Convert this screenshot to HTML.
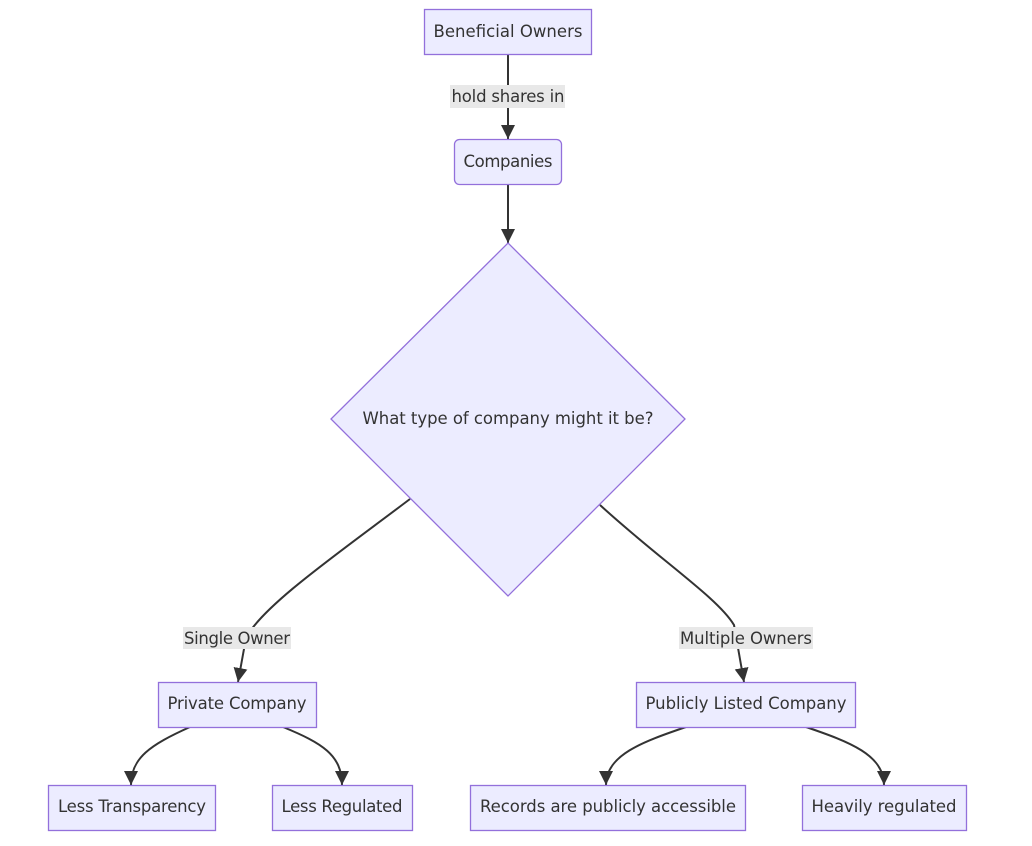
<!DOCTYPE html>
<html><head><meta charset="utf-8"><style>
html,body{margin:0;padding:0;background:#fff;}
svg{display:block;}
text{font-family:"DejaVu Sans","Liberation Sans",sans-serif;font-size:16.5px;fill:#333;}
.n{fill:#ECECFF;stroke:#9370DB;stroke-width:1.3;}
.e{fill:none;stroke:#333;stroke-width:2;}
.lb{fill:#e8e8e8;}
</style></head><body>
<svg width="1032" height="846" viewBox="0 0 1032 846">
<defs>
<marker id="b" viewBox="0 0 10 10" refX="10" refY="5" markerWidth="14" markerHeight="14" orient="auto" markerUnits="userSpaceOnUse"><path d="M0,0L10,5L0,10z" fill="#333"/></marker></defs>
<path class="e" d="M508,54 L508,139" marker-end="url(#b)"/>
<path class="e" d="M508,184 L508,243" marker-end="url(#b)"/>
<path class="e" d="M410,499 C340,552 262,606 246,638 L238,682" marker-end="url(#b)"/>
<path class="e" d="M600,505 C660,560 718,598 734,625 L744,682" marker-end="url(#b)"/>
<path class="e" d="M190,727 C150,745 131,758 131,785" marker-end="url(#b)"/>
<path class="e" d="M283,727 C322,743 342,755 342,785" marker-end="url(#b)"/>
<path class="e" d="M686,727 C642,742 606,755 606,785" marker-end="url(#b)"/>
<path class="e" d="M806,727 C850,742 884,755 884,785" marker-end="url(#b)"/>
<rect class="lb" x="450" y="85" width="115" height="23"/><text x="508" y="102" text-anchor="middle" textLength="113">hold shares in</text>
<rect class="lb" x="183" y="627" width="108" height="22"/><text x="237" y="644" text-anchor="middle" textLength="106">Single Owner</text>
<rect class="lb" x="679" y="627" width="134" height="22"/><text x="746" y="644" text-anchor="middle" textLength="132">Multiple Owners</text>
<rect class="n" x="424.5" y="9.5" width="167" height="45"/><text x="508" y="37" text-anchor="middle" textLength="149">Beneficial Owners</text>
<rect class="n" x="454.5" y="139.5" width="107" height="45" rx="5"/><text x="508" y="167" text-anchor="middle" textLength="89">Companies</text>
<path class="n" d="M508,243 L685,419 L508,596 L331,419 Z"/><text x="508" y="424" text-anchor="middle" textLength="291">What type of company might it be?</text>
<rect class="n" x="158.5" y="682.5" width="158" height="45"/><text x="237" y="709" text-anchor="middle" textLength="139">Private Company</text>
<rect class="n" x="636.5" y="682.5" width="219" height="45"/><text x="746" y="709" text-anchor="middle" textLength="201">Publicly Listed Company</text>
<rect class="n" x="48.5" y="785.5" width="167" height="45"/><text x="132" y="812" text-anchor="middle" textLength="148">Less Transparency</text>
<rect class="n" x="272.5" y="785.5" width="140" height="45"/><text x="342" y="812" text-anchor="middle" textLength="121">Less Regulated</text>
<rect class="n" x="470.5" y="785.5" width="275" height="45"/><text x="608" y="812" text-anchor="middle" textLength="256">Records are publicly accessible</text>
<rect class="n" x="802.5" y="785.5" width="164" height="45"/><text x="884" y="812" text-anchor="middle" textLength="145">Heavily regulated</text>
</svg>
</body></html>
